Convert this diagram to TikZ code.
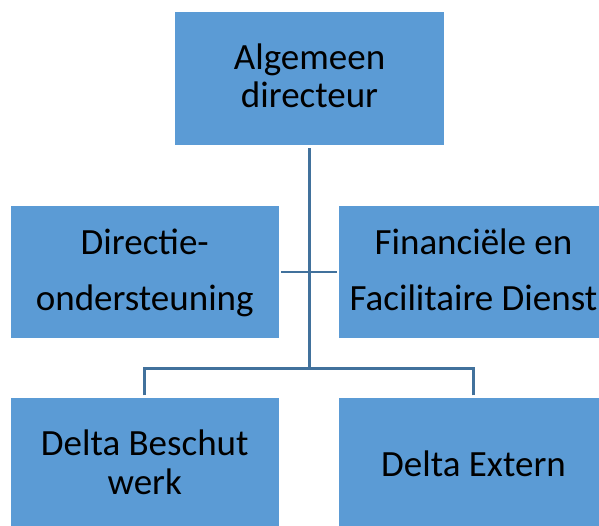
\documentclass[tikz,border=0pt]{standalone}
\usepackage{fontspec}
\setmainfont{Carlito}
\definecolor{boxfill}{HTML}{5B9BD5}
\definecolor{linecol}{HTML}{41719C}
\begin{document}
\begin{tikzpicture}[x=1pt,y=-1pt,
  orgbox/.style={rectangle, fill=boxfill, draw=none, inner sep=0pt, align=center,
    minimum width=268.5pt, minimum height=133pt, text=black},
  conn/.style={draw=linecol, line width=2.6pt},
  every node/.append style={font=\fontsize{37}{38}\selectfont}]
\useasboundingbox (0,0) rectangle (599,525);
\node[orgbox, text height=60pt, text depth=2.4pt] (top) at (309.5,78.5) {Algemeen\\directeur};
\node[orgbox, minimum height=132pt, text height=80pt, text depth=2.6pt,
  font=\fontsize{37}{56}\selectfont] (ml) at (144.75,272) {Directie-\\ondersteuning};
\node[orgbox, minimum height=132pt, text height=80pt, text depth=2.6pt,
  font=\fontsize{37}{56}\selectfont] (mr) at (473.5,272) {Financiële en\\Facilitaire Dienst};
\node[orgbox, text height=60pt, text depth=1pt,
  font=\fontsize{37}{39}\selectfont] (bl) at (144.75,464.5) {Delta Beschut\\werk};
\node[orgbox, text height=40pt, text depth=17pt] (br) at (473.5,464.5) {Delta Extern};
\coordinate (junc) at (309.5,368.5);
\draw[conn, shorten <=3pt] (top.south) -- (junc);
\draw[conn, shorten <=2pt, shorten >=2pt] (ml.east) -- (mr.west);
\draw[conn, shorten <=2.5pt] (bl.north) |- (junc);
\draw[conn, shorten <=2.5pt] (br.north) |- (junc);
\end{tikzpicture}
\end{document}
